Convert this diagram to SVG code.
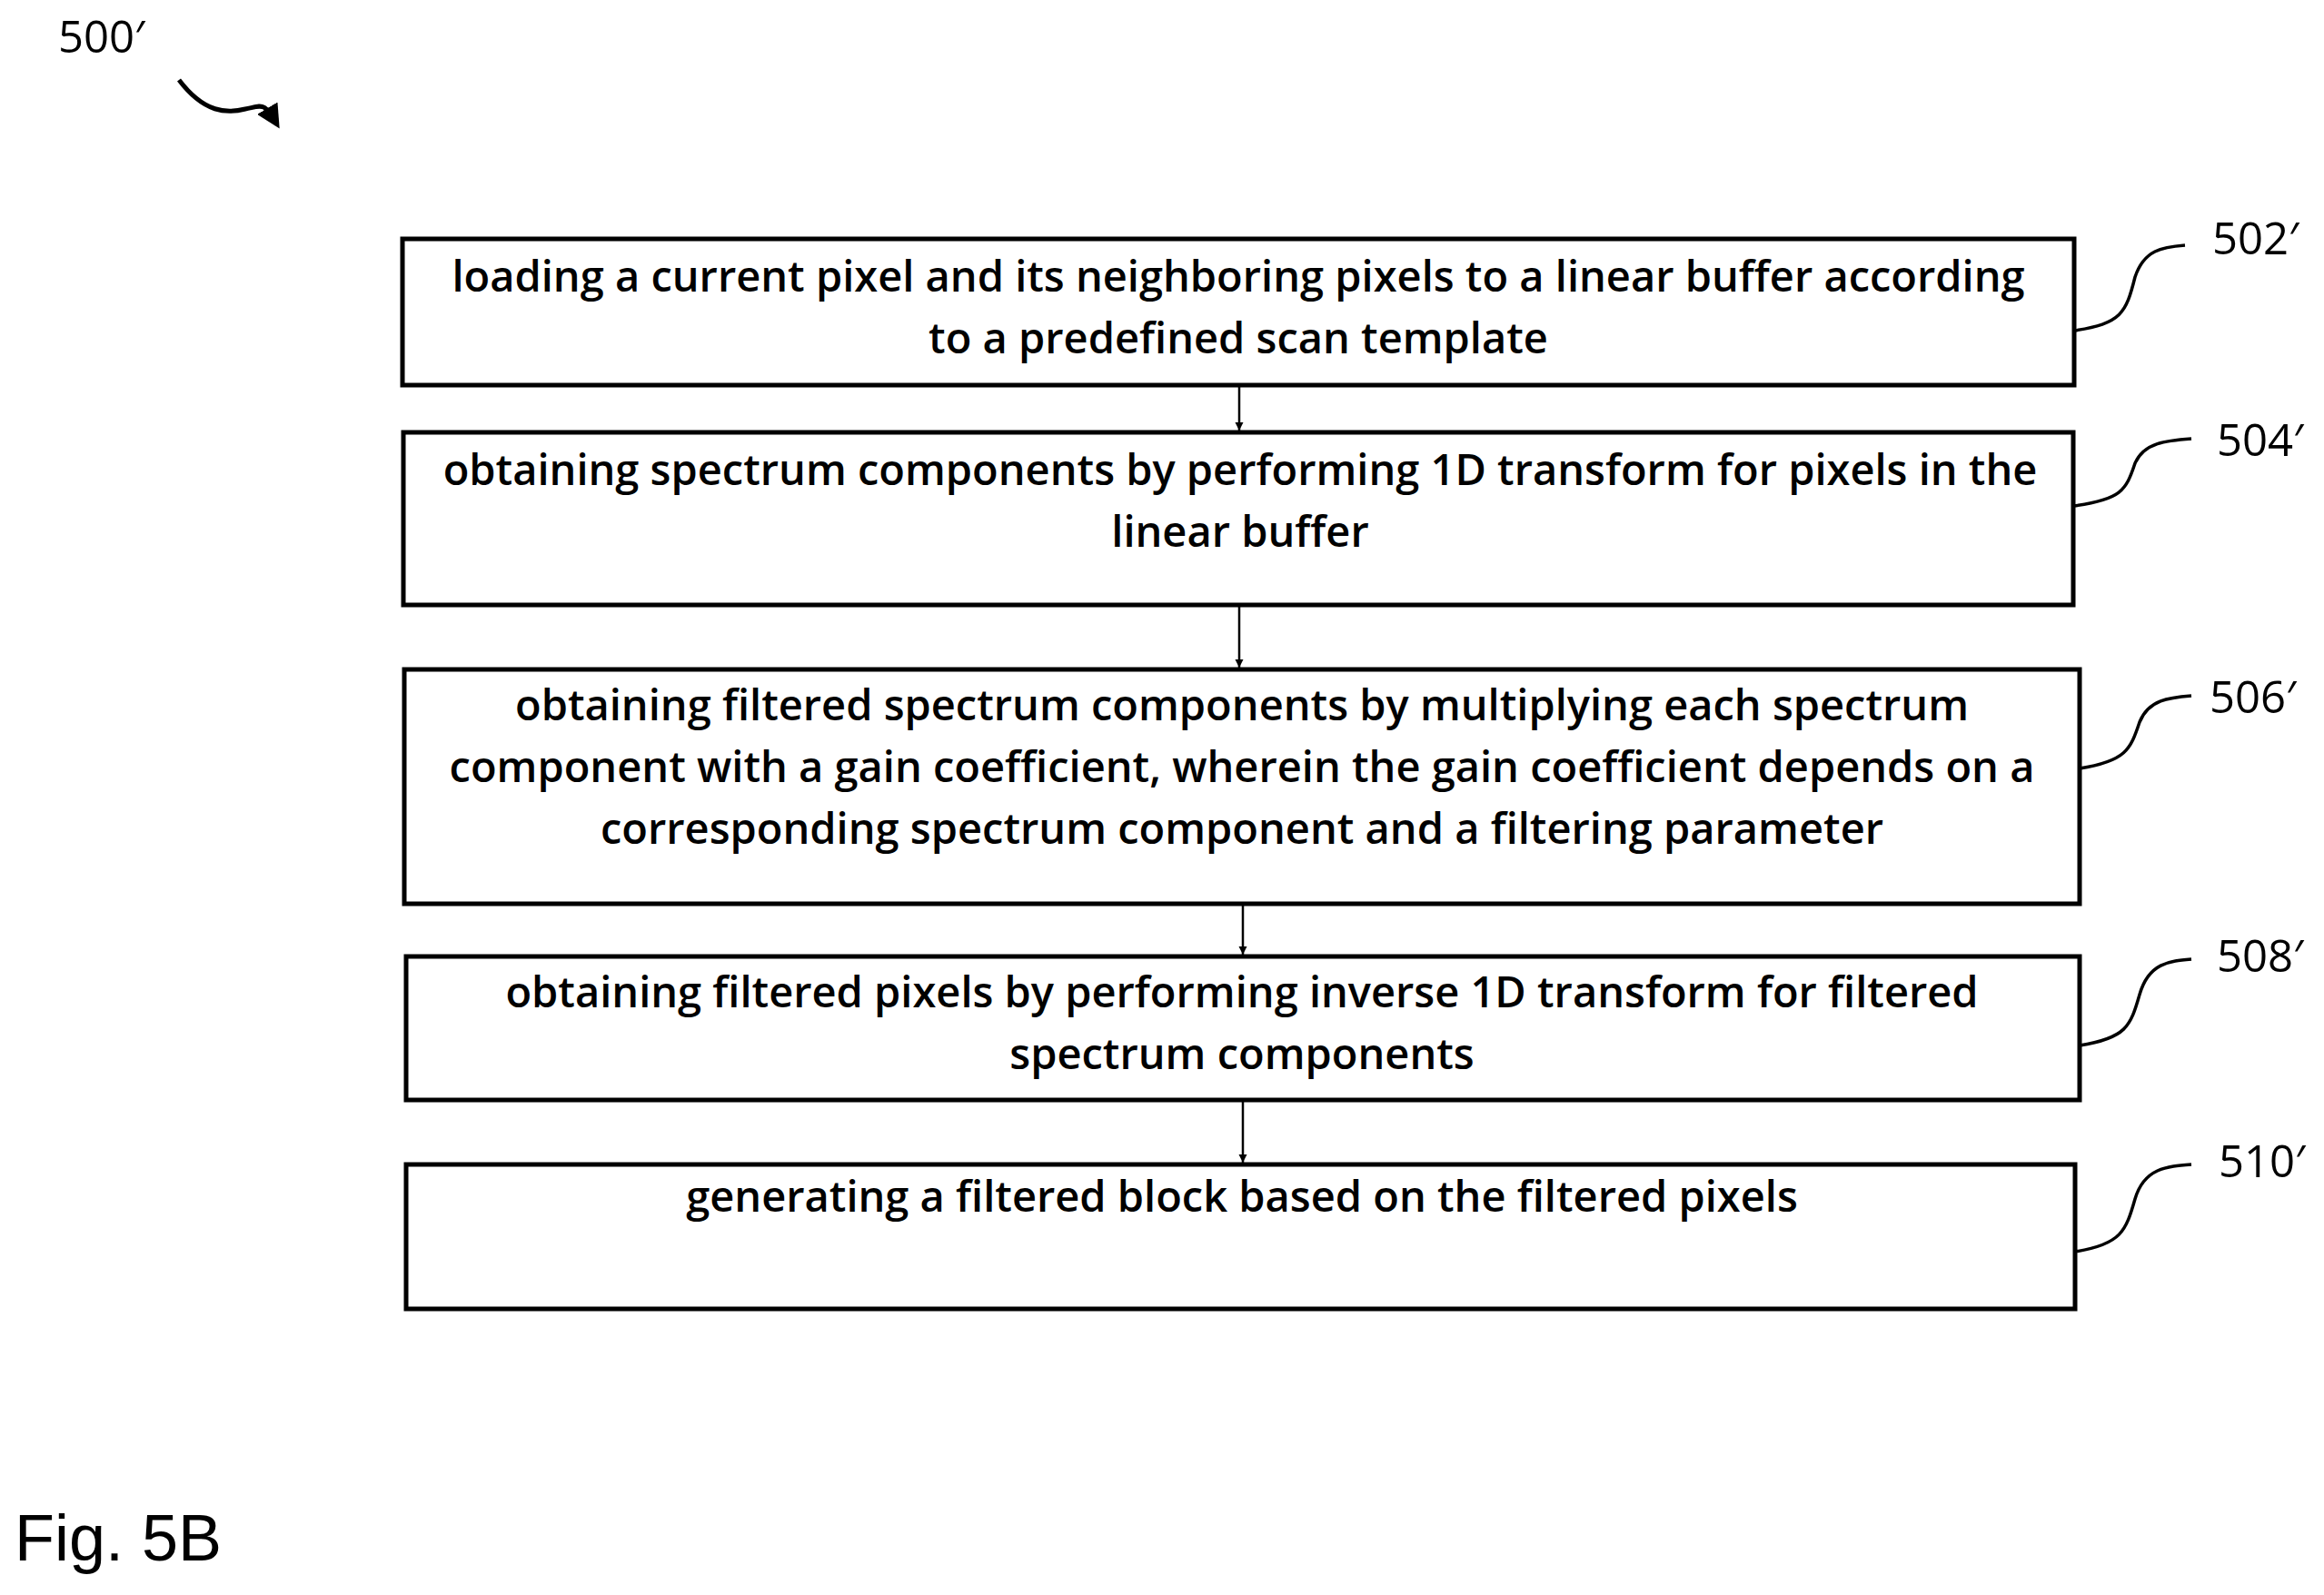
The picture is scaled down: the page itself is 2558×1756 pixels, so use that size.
<svg xmlns="http://www.w3.org/2000/svg" width="2558" height="1756" viewBox="0 0 2558 1756">
<style>
.box{fill:#fff;stroke:#000;stroke-width:5}
.t{font-family:"Open Sans","Liberation Sans",sans-serif;font-size:47px;font-weight:600;text-anchor:middle;fill:#000}
.lbl{font-family:"Open Sans","Liberation Sans",sans-serif;font-size:49px;fill:#000}
.c{fill:none;stroke:#000;stroke-width:3.5}
.a{fill:none;stroke:#000;stroke-width:2.5;marker-end:url(#ah)}
</style>
<defs>
<marker id="ah" viewBox="0 0 10 10" refX="10" refY="5" markerWidth="9" markerHeight="12" markerUnits="userSpaceOnUse" orient="auto"><path d="M0,0 L10,5 L0,10 z"/></marker>
<marker id="ah2" viewBox="0 0 10 10" refX="8" refY="5" markerWidth="26" markerHeight="26" markerUnits="userSpaceOnUse" orient="auto"><path d="M0,0 L10,5 L0,10 z"/></marker>
</defs>
<rect width="2558" height="1756" fill="#fff"/>
<text class="lbl" x="64" y="58">500′</text>
<path d="M197,88 C225,125 250,125 270,120 C290,116 290,112 305,137" fill="none" stroke="#000" stroke-width="5" marker-end="url(#ah2)"/>
<g id="n502"><rect class="box" x="443" y="263" width="1840" height="161"/>
<text class="t" x="1363" y="321">loading a current pixel and its neighboring pixels to a linear buffer according</text>
<text class="t" x="1363" y="389">to a predefined scan template</text></g>
<g id="n504"><rect class="box" x="444" y="476" width="1838" height="190"/>
<text class="t" x="1365" y="534">obtaining spectrum components by performing 1D transform for pixels in the</text>
<text class="t" x="1365" y="602">linear buffer</text></g>
<g id="n506"><rect class="box" x="445" y="737" width="1844" height="258"/>
<text class="t" x="1367" y="793">obtaining filtered spectrum components by multiplying each spectrum</text>
<text class="t" x="1367" y="861">component with a gain coefficient, wherein the gain coefficient depends on a</text>
<text class="t" x="1367" y="929">corresponding spectrum component and a filtering parameter</text></g>
<g id="n508"><rect class="box" x="447" y="1053" width="1842" height="158"/>
<text class="t" x="1367" y="1109">obtaining filtered pixels by performing inverse 1D transform for filtered</text>
<text class="t" x="1367" y="1177">spectrum components</text></g>
<g id="n510"><rect class="box" x="447" y="1282" width="1837" height="159"/>
<text class="t" x="1367" y="1334">generating a filtered block based on the filtered pixels</text></g>
<g id="labels">
<text class="lbl" x="2435" y="280">502′</text>
<text class="lbl" x="2440" y="502">504′</text>
<text class="lbl" x="2432" y="785">506′</text>
<text class="lbl" x="2440" y="1070">508′</text>
<text class="lbl" x="2442" y="1296">510′</text>
</g>
<g id="connectors">
<path class="a" d="M1364,426 V474"/>
<path class="a" d="M1364,668 V735"/>
<path class="a" d="M1368,997 V1051"/>
<path class="a" d="M1368,1213 V1280"/>
<path class="c" d="M2283,364 C2335,356 2340,345 2350,305 C2360,275 2380,272 2405,270"/>
<path class="c" d="M2282,557 C2335,550 2340,540 2350,510 C2360,487 2385,485 2412,483"/>
<path class="c" d="M2289,846 C2340,838 2345,825 2355,795 C2365,770 2388,768 2412,766"/>
<path class="c" d="M2289,1151 C2340,1143 2345,1130 2355,1095 C2365,1060 2388,1058 2412,1056"/>
<path class="c" d="M2284,1378 C2335,1370 2340,1355 2350,1320 C2360,1286 2385,1284 2412,1282"/>
</g>
<text x="16" y="1718" font-family="Liberation Sans,Arial,sans-serif" font-size="72">Fig. 5B</text>
</svg>
